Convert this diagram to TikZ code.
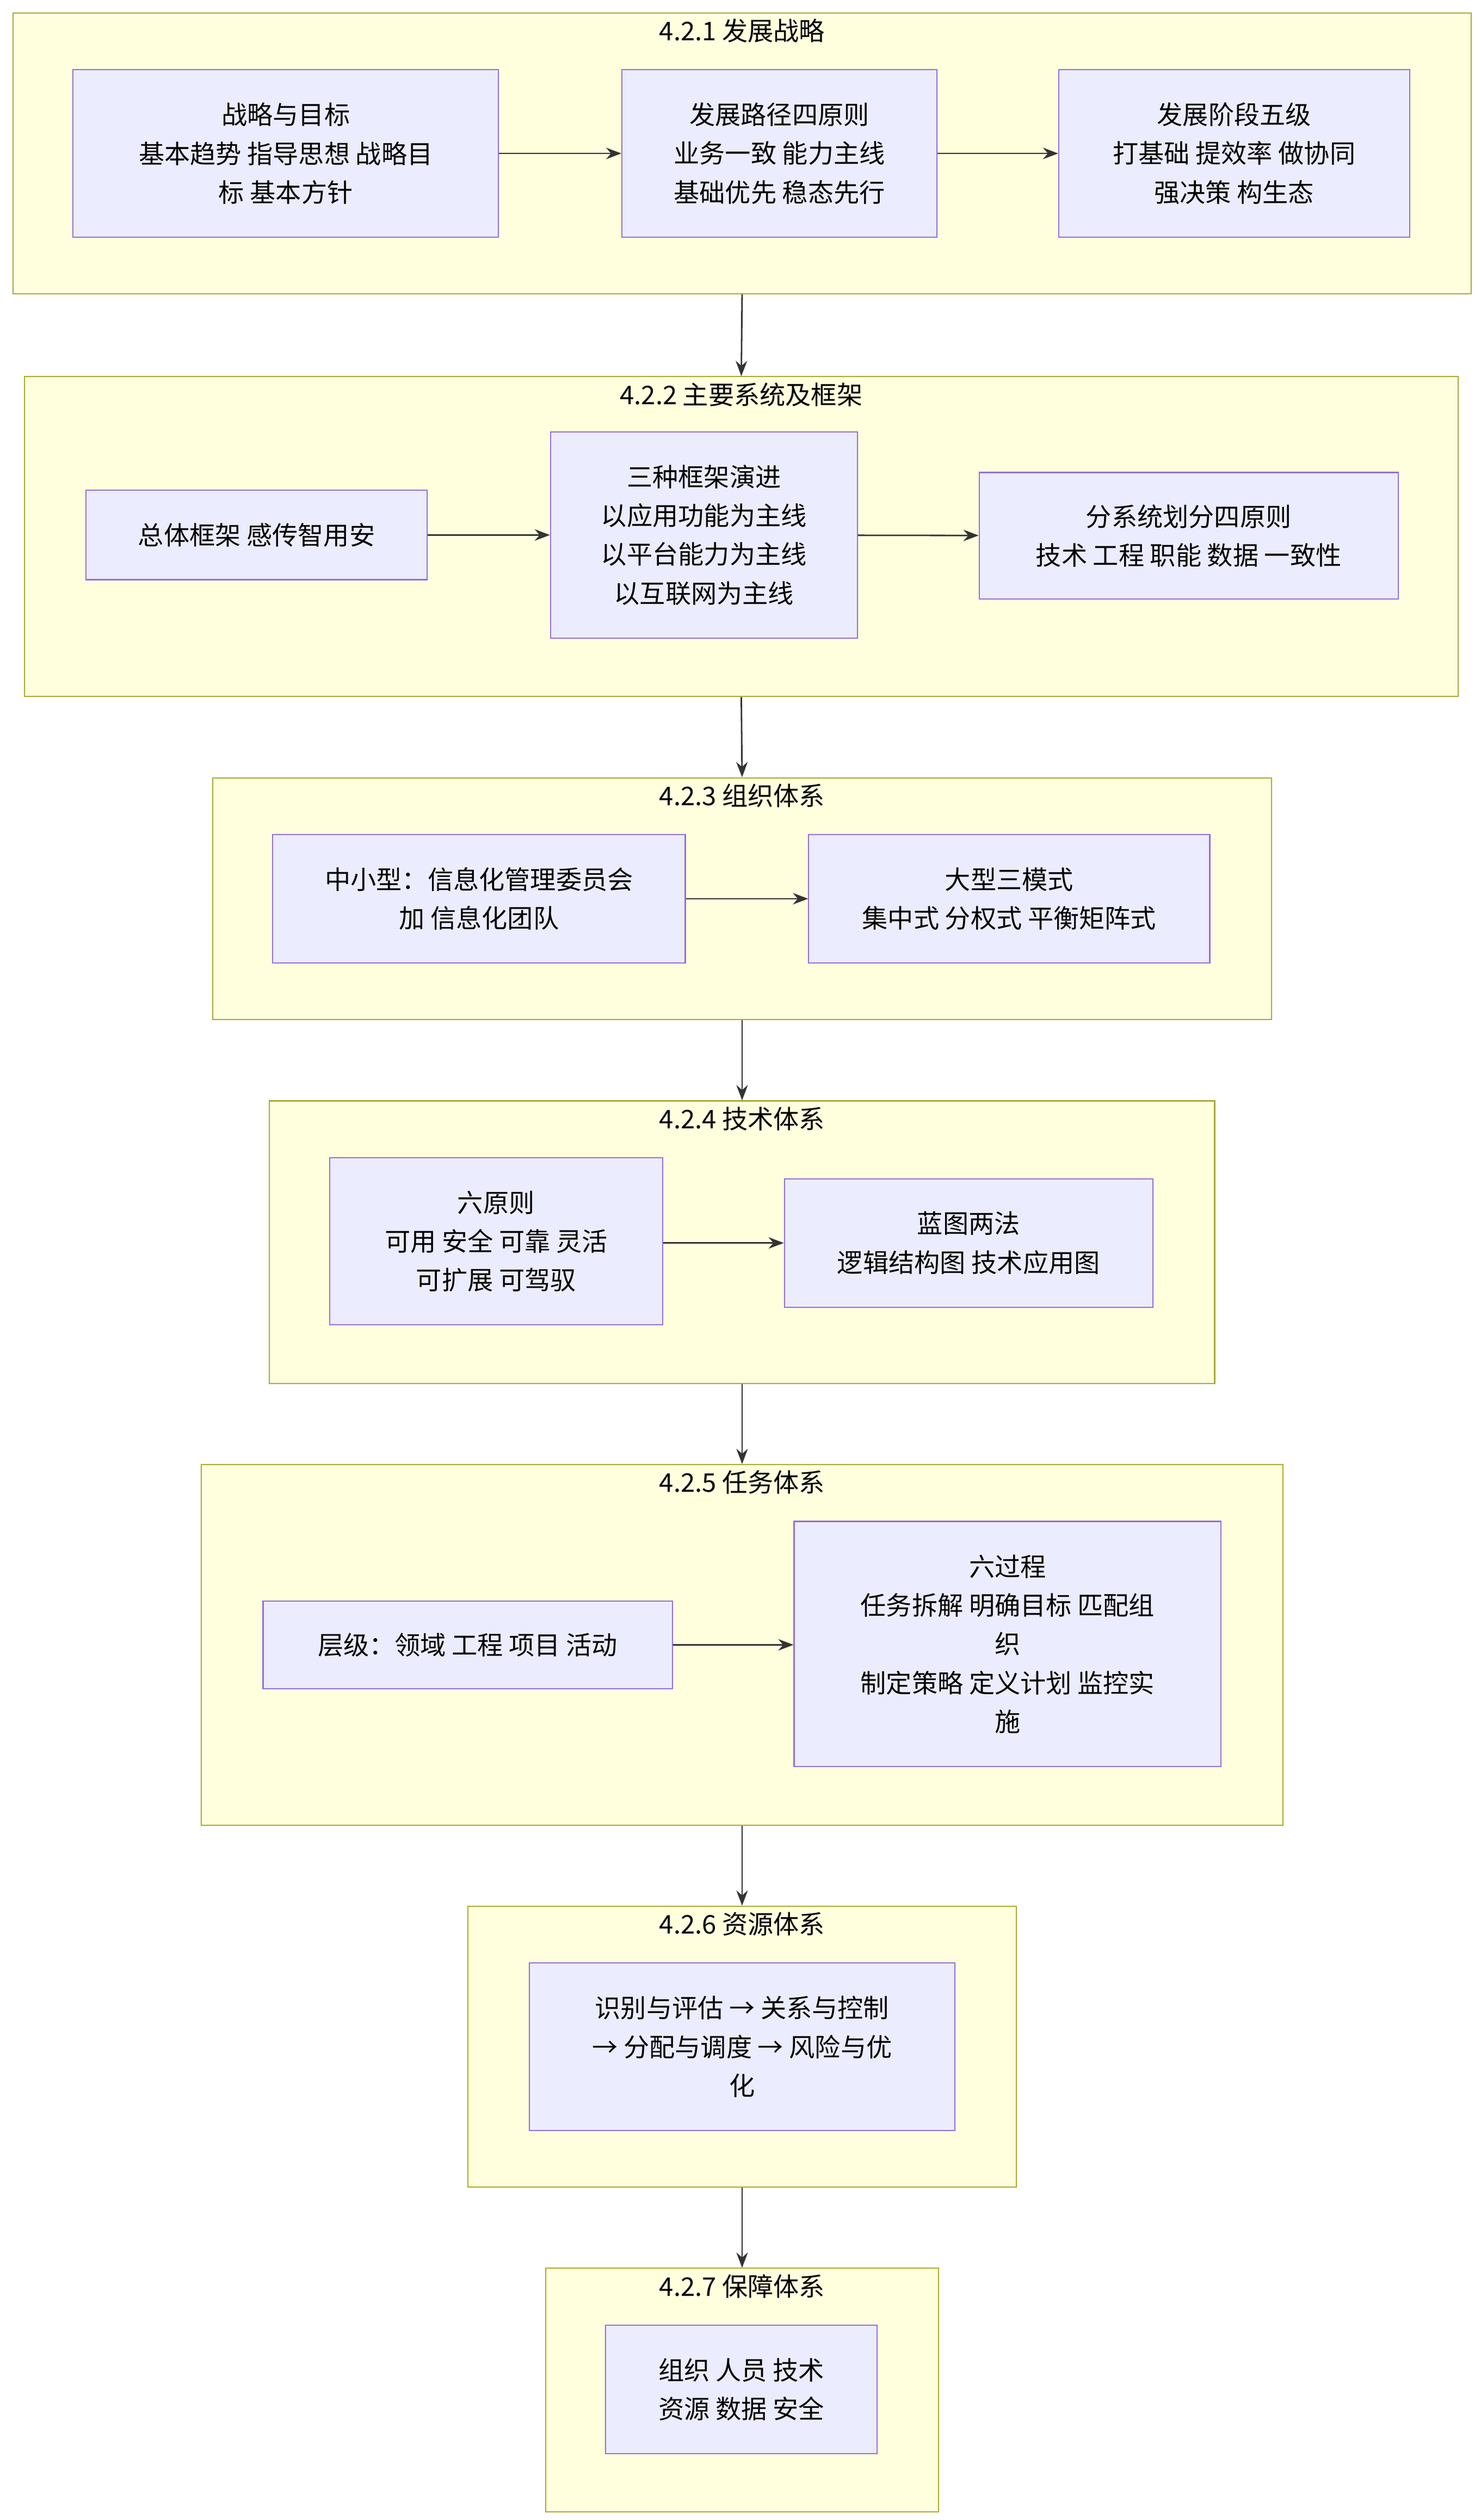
\documentclass[tikz,border=0pt]{standalone}
\usepackage{fontspec}
\setmainfont{Noto Sans CJK SC}
\usetikzlibrary{arrows.meta}
\definecolor{clfill}{HTML}{FFFFDE}
\definecolor{cldraw}{HTML}{AAAA33}
\definecolor{bxfill}{HTML}{ECECFF}
\definecolor{bxdraw}{HTML}{9370DB}
\definecolor{arcol}{HTML}{333333}
\tikzset{
  cluster/.style={draw=cldraw,fill=clfill,line width=0.6pt,inner sep=0pt},
  box/.style={draw=bxdraw,fill=bxfill,line width=0.6pt,align=center,inner sep=0pt,font=\fontsize{13.5pt}{20.4pt}\selectfont},
  ctitle/.style={font=\fontsize{13.5pt}{16pt}\selectfont,inner sep=0pt},
  arr/.style={-{Stealth[length=8pt,width=6pt]},draw=arcol,line width=0.8pt}
}
% name, x1, y1, x2, y2, text
\newcommand\pbox[7][box]{%
  \node[#1,minimum width={(#5-#3)*0.03cm},minimum height={(#6-#4)*0.03cm}]
    (#2) at ({(#3+#5)/2},{(#4+#6)/2}) {#7};}
\newcommand\pcluster[6]{%
  \pbox[cluster]{#1}{#2}{#3}{#4}{#5}{}
  \node[ctitle] at ({(#2+#4)/2},{#3+11}) {#6};}
\begin{document}
\begin{tikzpicture}[x=0.03cm,y=-0.03cm]
  \useasboundingbox (0,0) rectangle (912,1552);
  % clusters
  \pcluster{s1}{8}{8}{906}{181}{4.2.1 发展战略}
  \pcluster{s2}{15}{232}{898}{429}{4.2.2 主要系统及框架}
  \pcluster{s3}{131}{479}{783}{628}{4.2.3 组织体系}
  \pcluster{s4}{166}{678}{748}{852}{4.2.4 技术体系}
  \pcluster{s5}{124}{902}{790}{1124}{4.2.5 任务体系}
  \pcluster{s6}{288}{1174}{626}{1347}{4.2.6 资源体系}
  \pcluster{s7}{336}{1397}{578}{1547}{4.2.7 保障体系}
  % boxes
  \pbox{goal}{45}{43}{307}{146}{战略与目标\\基本趋势 指导思想 战略目\\标 基本方针}
  \pbox{path}{383}{43}{577}{146}{发展路径四原则\\业务一致 能力主线\\基础优先 稳态先行}
  \pbox{stage}{652}{43}{868}{146}{发展阶段五级\\打基础 提效率 做协同\\强决策 构生态}
  \pbox{frame}{53}{302}{263}{357}{总体框架 感传智用安}
  \pbox{evol}{339}{266}{528}{393}{三种框架演进\\以应用功能为主线\\以平台能力为主线\\以互联网为主线}
  \pbox{subsys}{603}{291}{861}{369}{分系统划分四原则\\技术 工程 职能 数据 一致性}
  \pbox{small}{168}{514}{422}{593}{中小型：信息化管理委员会\\加 信息化团队}
  \pbox{large}{498}{514}{745}{593}{大型三模式\\集中式 分权式 平衡矩阵式}
  \pbox{six}{203}{713}{408}{816}{六原则\\可用 安全 可靠 灵活\\可扩展 可驾驭}
  \pbox{blue}{483}{726}{710}{805}{蓝图两法\\逻辑结构图 技术应用图}
  \pbox{level}{162}{986}{414}{1040}{层级：领域 工程 项目 活动}
  \pbox{proc}{489}{937}{752}{1088}{六过程\\任务拆解 明确目标 匹配组\\织\\制定策略 定义计划 监控实\\施}
  \pbox{res}{326}{1209}{588}{1312}{识别与评估 → 关系与控制\\→ 分配与调度 → 风险与优\\化}
  \pbox{guard}{373}{1432}{540}{1511}{组织 人员 技术\\资源 数据 安全}
  % connectors
  \draw[arr] (goal) -- (path);
  \draw[arr] (path) -- (stage);
  \draw[arr] (frame) -- (evol);
  \draw[arr] (evol) -- (subsys);
  \draw[arr] (small) -- (large);
  \draw[arr] (six.east |- blue.west) -- (blue.west);
  \draw[arr] (level) -- (level -| proc.west);
  \foreach \a/\b in {s1/s2,s2/s3,s3/s4,s4/s5,s5/s6,s6/s7}
    \draw[arr] (\a.south) -- (\b.north);
\end{tikzpicture}
\end{document}
